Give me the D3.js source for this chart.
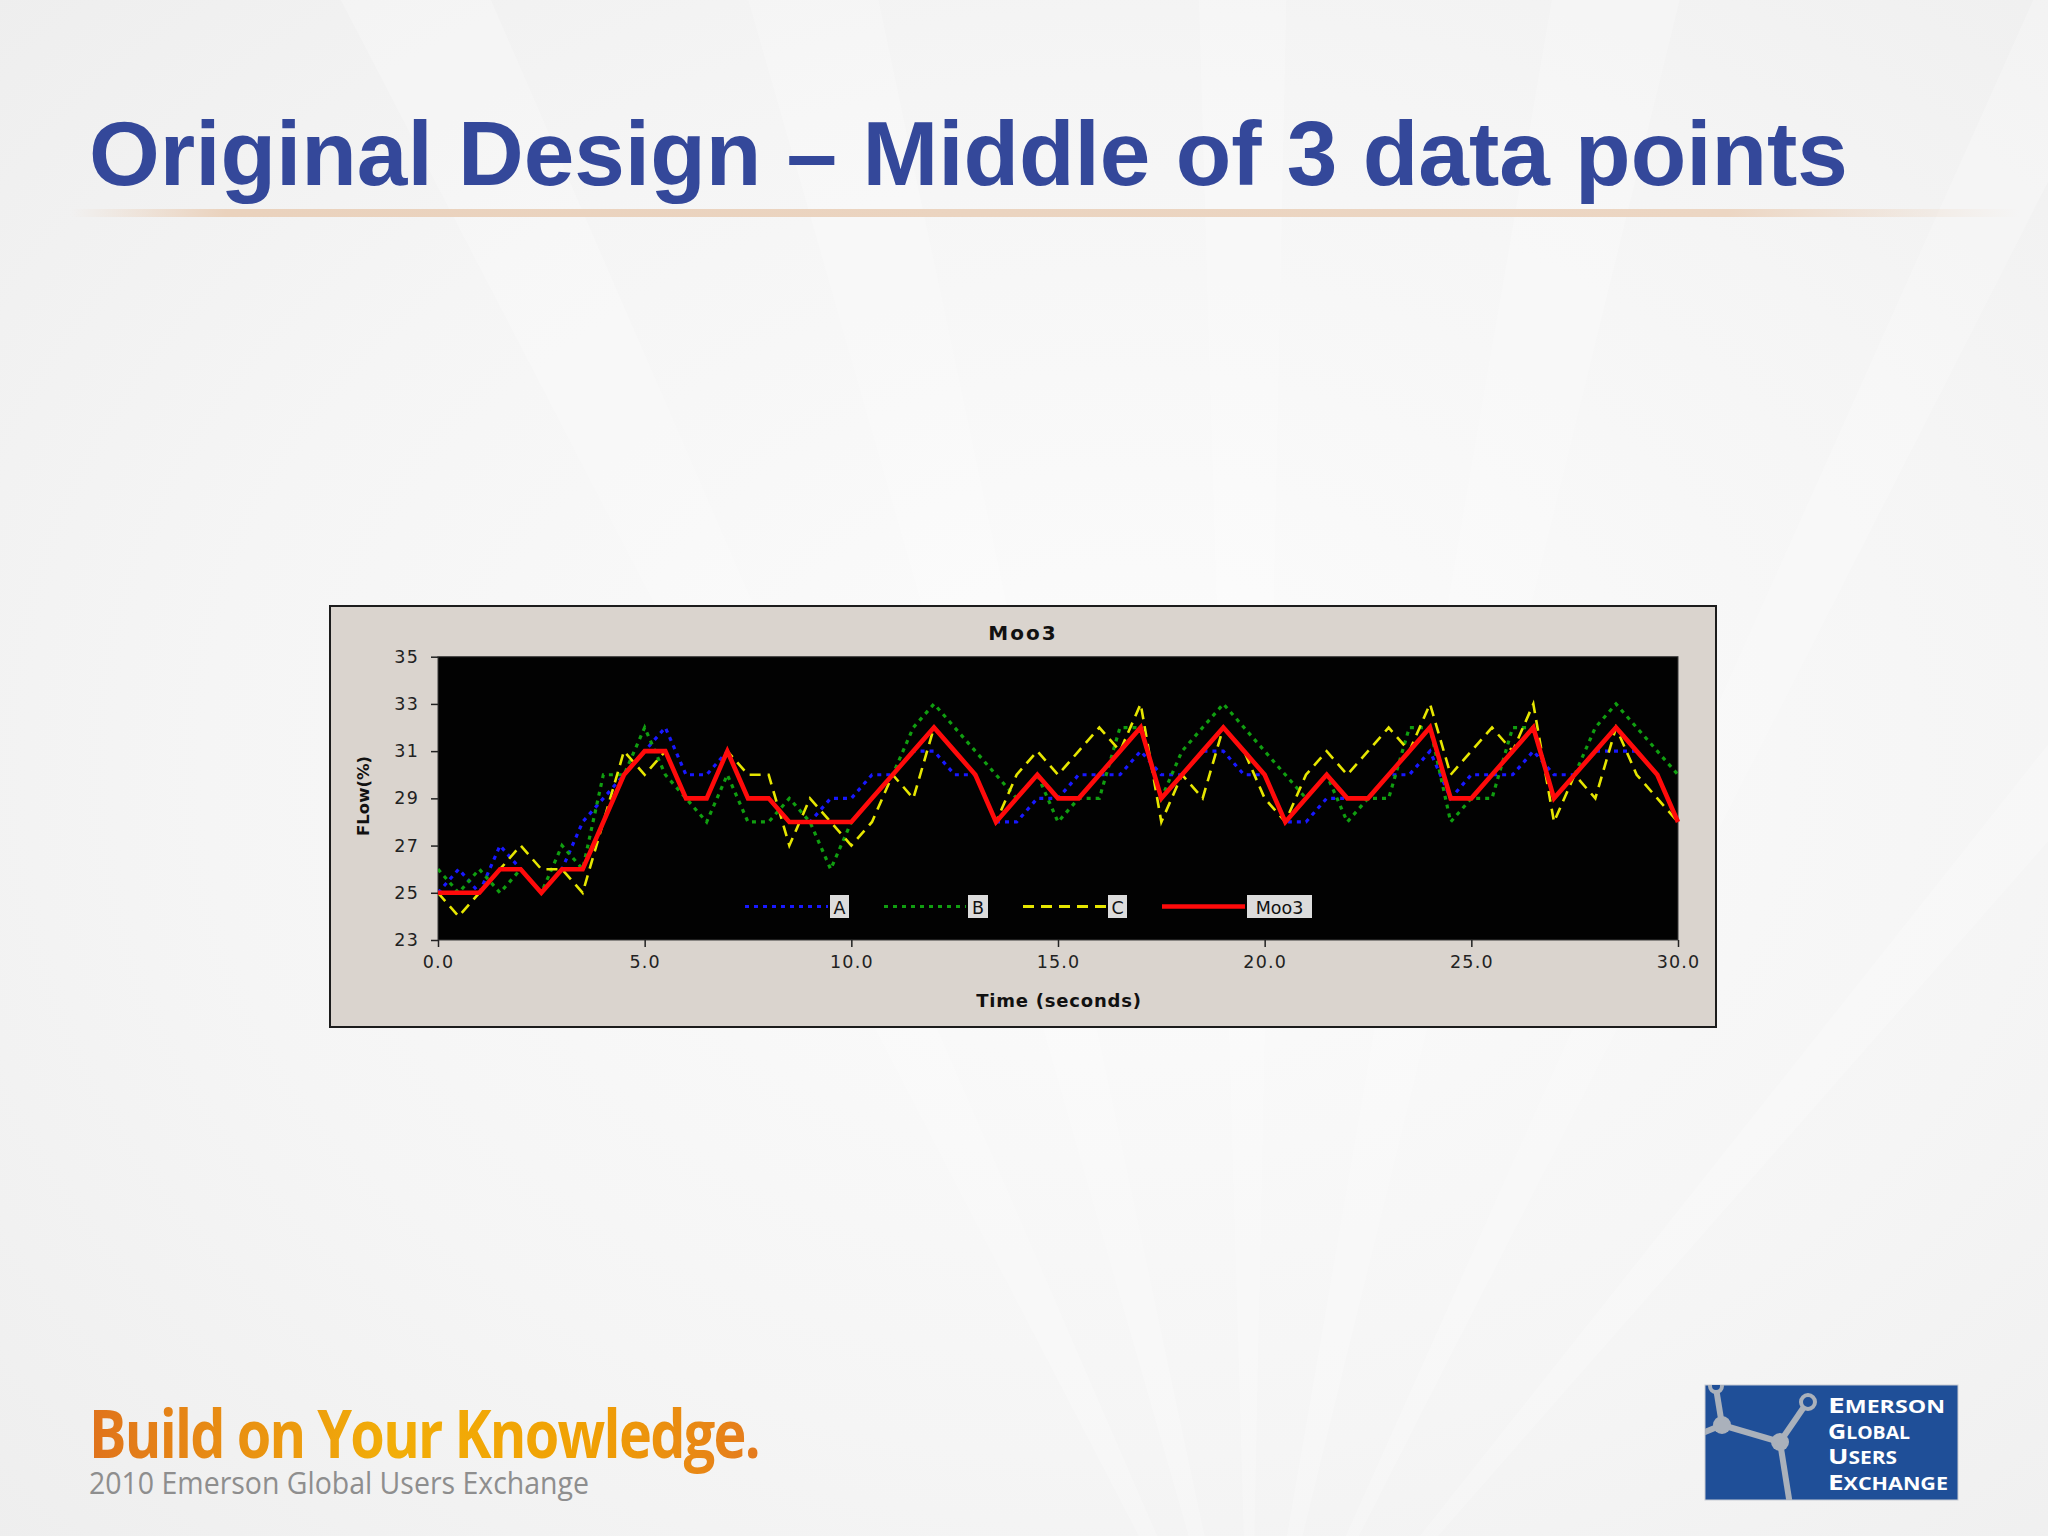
<!DOCTYPE html>
<html>
<head>
<meta charset="utf-8">
<script src="https://cdn.jsdelivr.net/npm/d3@7"></script>
<style>
  html,body{margin:0;padding:0;background:#f2f2f2;}
  svg{display:block;}
</style>
</head>
<body>
<svg id="c" width="2048" height="1536"></svg>
<script>
// ---------------- DATA ----------------
const timeS = [0,0.5,1,1.5,2,2.5,3,3.5,4,4.5,5,5.5,6,6.5,7,7.5,8,8.5,9,9.5,10,10.5,11,11.5,12,
  12.5,13,13.5,14,14.5,15,15.5,16,16.5,17,17.5,18,18.5,19,19.5,20,20.5,21,21.5,22,22.5,23,23.5,24,
  24.5,25,25.5,26,26.5,27,27.5,28,28.5,29,29.5,30];

const seriesA = [25,26,25,27,26,25,26,28,29,30,31,32,30,30,31,29,29,28,28,29,29,30,30,31,31,
  30,30,28,28,29,29,30,30,30,31,30,30,
  31,31,30,30,28,28,29,29,29,30,30,31,
  29,30,30,30,31,30,30,31,31,31,30,28];

const seriesB = [26,25,26,25,26,25,27,26,30,30,32,30,29,28,30,28,28,29,28,26,28,29,30,32,33,
  32,31,30,29,30,28,29,29,32,32,29,31,
  32,33,32,31,30,29,30,28,29,29,32,32,
  28,29,29,32,32,29,30,32,33,32,31,30];

const seriesC = [25,24,25,26,27,26,26,25,28,31,30,31,29,29,31,30,30,27,29,28,27,28,30,29,32,
  31,30,28,30,31,30,31,32,31,33,28,30,
  29,32,31,29,28,30,31,30,31,32,31,33,
  30,31,32,31,33,28,30,29,32,30,29,28];

const seriesMoo3 = [25,25,25,26,26,25,26,26,28,30,31,31,29,29,31,29,29,28,28,28,28,29,30,31,32,
  31,30,28,29,30,29,29,30,31,32,29,30,31,32,31,30,28,
  29,30,29,29,30,31,32,29,29,30,31,32,29,30,31,32,31,30,28];

const seriesNames = ["A","B","C","Moo3"];
const yTicks = [23,25,27,29,31,33,35];
const xTicks = [0,5,10,15,20,25,30];
const chartTitle = "Moo3";
const xTitle = "Time (seconds)";
const yTitle = "FLow(%)";
const slideTitle = "Original Design \u2013 Middle of 3 data points";
const footerMain = "Build on Your Knowledge.";
const footerSub = "2010 Emerson Global Users Exchange";

// ---------------- DRAW ----------------
const svg = d3.select("#c");
const defs = svg.append("defs");

const bg = defs.append("radialGradient").attr("id","bg").attr("cx","0.55").attr("cy","0.5").attr("r","0.75");
bg.append("stop").attr("offset","0").attr("stop-color","#fcfcfc");
bg.append("stop").attr("offset","0.6").attr("stop-color","#f5f5f5");
bg.append("stop").attr("offset","1").attr("stop-color","#eeeeee");

const ul = defs.append("linearGradient").attr("id","ul");
ul.append("stop").attr("offset","0").attr("stop-color","#ead2bd").attr("stop-opacity",0);
ul.append("stop").attr("offset","0.08").attr("stop-color","#ead2bd").attr("stop-opacity",1);
ul.append("stop").attr("offset","0.85").attr("stop-color","#ecd6c3").attr("stop-opacity",1);
ul.append("stop").attr("offset","1").attr("stop-color","#ecd6c3").attr("stop-opacity",0);

const fg = defs.append("linearGradient").attr("id","fg").attr("gradientUnits","userSpaceOnUse")
  .attr("x1",89).attr("x2",760).attr("y1",0).attr("y2",0);
fg.append("stop").attr("offset","0").attr("stop-color","#e0731c");
fg.append("stop").attr("offset","0.45").attr("stop-color","#f2ae08");
fg.append("stop").attr("offset","0.75").attr("stop-color","#f0a004");
fg.append("stop").attr("offset","1").attr("stop-color","#e47a1e");

svg.append("rect").attr("width",2048).attr("height",1536).attr("fill","url(#bg)");

// faint rays
const rayO = [1250, 1750];
const rayAngles = [[-2.05,-1.98],[-1.85,-1.78],[-1.6,-1.55],[-1.4,-1.33],[-1.15,-1.1],[-0.9,-0.85]];
rayAngles.forEach(a => {
  const L = 2600;
  const p = [rayO, [rayO[0]+L*Math.cos(a[0]), rayO[1]+L*Math.sin(a[0])], [rayO[0]+L*Math.cos(a[1]), rayO[1]+L*Math.sin(a[1])]];
  svg.append("polygon").attr("points", p.map(q=>q.join(",")).join(" "))
    .attr("fill","#ffffff").attr("opacity",0.22);
});

// slide title
const tt = svg.append("text").attr("x",89).attr("y",185)
  .attr("font-family","'Liberation Sans', Arial, sans-serif").attr("font-weight","bold")
  .attr("font-size",91).attr("fill","#34489a").text(slideTitle);
const tw = tt.node().getComputedTextLength();
if (tw > 0) tt.attr("font-size", 91*1759/tw);

svg.append("rect").attr("x",70).attr("y",209).attr("width",1950).attr("height",8).attr("fill","url(#ul)");

// chart frame
const g = svg.append("g");
g.append("rect").attr("x",330).attr("y",606).attr("width",1386).attr("height",421)
  .attr("fill","#dad4ce").attr("stroke","#1c1c1c").attr("stroke-width",2);

const x = d3.scaleLinear().domain([0,30]).range([438,1678]);
const y = d3.scaleLinear().domain([23,35]).range([940,656.7]);

g.append("rect").attr("x",x(0)).attr("y",y(35)).attr("width",x(30)-x(0)).attr("height",y(23)-y(35))
  .attr("fill","#020202").attr("stroke","#3a3a3a").attr("stroke-width",1);

g.append("text").attr("x",1023).attr("y",640).attr("text-anchor","middle")
  .attr("font-family","'DejaVu Sans', Verdana, sans-serif").attr("font-weight","bold")
  .attr("font-size",20).attr("letter-spacing",2).attr("fill","#111").text(chartTitle);

const yAxis = g.append("g").attr("transform",`translate(${x(0)},0)`)
  .call(d3.axisLeft(y).tickValues(yTicks).tickSize(7).tickPadding(12).tickFormat(d3.format("d")));
const xAxis = g.append("g").attr("transform",`translate(0,${y(23)})`)
  .call(d3.axisBottom(x).tickValues(xTicks).tickSize(7).tickPadding(9).tickFormat(d3.format(".1f")));
[yAxis,xAxis].forEach(a=>{
  a.select(".domain").remove();
  a.selectAll(".tick line").attr("stroke","#222").attr("stroke-width",1.5);
  a.selectAll(".tick text").attr("font-family","'DejaVu Sans', Verdana, sans-serif")
    .attr("font-size",17.5).attr("letter-spacing",1.2).attr("fill","#222");
});

g.append("text").attr("x",1059).attr("y",1007).attr("text-anchor","middle")
  .attr("font-family","'DejaVu Sans', Verdana, sans-serif").attr("font-weight","bold")
  .attr("font-size",18).attr("letter-spacing",0.8).attr("fill","#111").text(xTitle);
g.append("text").attr("transform","translate(369,796) rotate(-90)").attr("text-anchor","middle")
  .attr("font-family","'DejaVu Sans', Verdana, sans-serif").attr("font-weight","bold")
  .attr("font-size",16.5).attr("fill","#111").text(yTitle);

// series
defs.append("clipPath").attr("id","pc").append("rect")
  .attr("x",x(0)).attr("y",y(35)).attr("width",x(30)-x(0)+3).attr("height",y(23)-y(35));
const styles = [
  {data:seriesA, color:"#1818ff", w:3.2, dash:"4,5"},
  {data:seriesB, color:"#109e10", w:3.2, dash:"4,5"},
  {data:seriesC, color:"#e6e600", w:2.6, dash:"11,7"},
  {data:seriesMoo3, color:"#ff0a0a", w:4.6, dash:null}
];
const line = d3.line().x((d,i)=>x(timeS[i])).y(d=>y(d));
const lg = g.append("g").attr("clip-path","url(#pc)");
styles.forEach(s=>{
  lg.append("path").attr("d",line(s.data)).attr("fill","none").attr("stroke",s.color)
    .attr("stroke-width",s.w).attr("stroke-dasharray",s.dash).attr("stroke-linejoin","miter");
});

// legend
const legItems = [
  {lx0:745, lx1:828, bx:830, bw:19},
  {lx0:884, lx1:966, bx:968, bw:20},
  {lx0:1023, lx1:1106, bx:1108, bw:19},
  {lx0:1162, lx1:1245, bx:1247, bw:65}
];
legItems.forEach((it,i)=>{
  const s = styles[i];
  g.append("line").attr("x1",it.lx0).attr("x2",it.lx1).attr("y1",906.5).attr("y2",906.5)
    .attr("stroke",s.color).attr("stroke-width",i===3?4.6:3.2).attr("stroke-dasharray",s.dash);
  g.append("rect").attr("x",it.bx).attr("y",895).attr("width",it.bw).attr("height",23).attr("fill","#dcdcdc");
  g.append("text").attr("x",it.bx+it.bw/2).attr("y",914).attr("text-anchor","middle")
    .attr("font-family","'DejaVu Sans', Verdana, sans-serif").attr("font-size",17.5)
    .attr("fill","#111").text(seriesNames[i]);
});

// footer
svg.append("text").attr("x",89).attr("y",1458)
  .attr("font-family","'Open Sans', 'Noto Sans', sans-serif").attr("font-weight","bold")
  .attr("font-size",66).attr("textLength",670).attr("lengthAdjust","spacingAndGlyphs")
  .attr("letter-spacing",-2)
  .attr("fill","url(#fg)").text(footerMain);
svg.append("text").attr("x",89).attr("y",1494)
  .attr("font-family","'Open Sans', 'Noto Sans', sans-serif")
  .attr("font-size",31).attr("textLength",500).attr("lengthAdjust","spacingAndGlyphs")
  .attr("fill","#8e8e8e").text(footerSub);

// logo
const logo = svg.append("g");
defs.append("clipPath").attr("id","lc").append("rect").attr("x",1705).attr("y",1385).attr("width",253).attr("height",115);
logo.append("rect").attr("x",1705).attr("y",1385).attr("width",253).attr("height",115)
  .attr("fill","#1f4f98").attr("stroke","#c8ccd3").attr("stroke-width",1);
const mol = logo.append("g").attr("clip-path","url(#lc)");
const molStroke = "#aab1bb";
[[1716,1388,1722,1425],[1700,1434,1722,1425],[1722,1425,1780,1442],[1780,1442,1806,1404],[1780,1442,1790,1505]]
  .forEach(s=>mol.append("line").attr("x1",s[0]).attr("y1",s[1]).attr("x2",s[2]).attr("y2",s[3])
    .attr("stroke",molStroke).attr("stroke-width",6));
mol.append("circle").attr("cx",1722).attr("cy",1425).attr("r",9).attr("fill",molStroke);
mol.append("circle").attr("cx",1780).attr("cy",1442).attr("r",9).attr("fill",molStroke);
mol.append("circle").attr("cx",1716).attr("cy",1386).attr("r",6).attr("fill","#1f4f98").attr("stroke",molStroke).attr("stroke-width",4);
mol.append("circle").attr("cx",1808).attr("cy",1402).attr("r",7).attr("fill","#1f4f98").attr("stroke",molStroke).attr("stroke-width",4);
const logoLines = [["E","MERSON",1413,117],["G","LOBAL",1439,82],["U","SERS",1464,69],["E","XCHANGE",1490,120]];
logoLines.forEach(l=>{
  const t = logo.append("text").attr("x",1828).attr("y",l[2])
    .attr("font-family","'Open Sans', 'Noto Sans', sans-serif").attr("font-weight","bold")
    .attr("fill","#ffffff").attr("textLength",l[3]).attr("lengthAdjust","spacingAndGlyphs");
  t.append("tspan").attr("font-size",22).text(l[0]);
  t.append("tspan").attr("font-size",17).text(l[1]);
});
</script>
</body>
</html>
